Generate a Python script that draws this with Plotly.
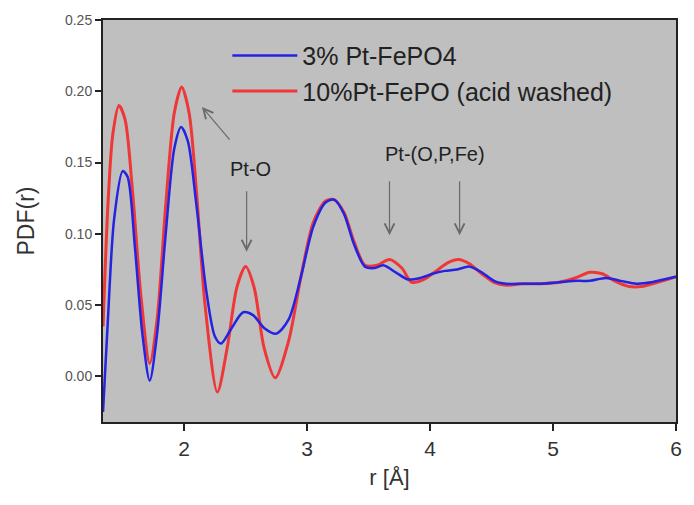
import plotly.graph_objects as go

# --- data ---
r_red = [1.34, 1.38, 1.42, 1.47, 1.52, 1.58, 1.65, 1.72, 1.78, 1.85, 1.92, 1.98, 2.04, 2.10,
         2.17, 2.27, 2.35, 2.43, 2.50, 2.57, 2.65, 2.74, 2.85, 2.95, 3.05, 3.15, 3.22, 3.30,
         3.38, 3.47, 3.57, 3.67, 3.77, 3.85, 3.95, 4.05, 4.15, 4.23, 4.32, 4.42, 4.52, 4.62,
         4.75, 4.90, 5.05, 5.18, 5.30, 5.40, 5.50, 5.62, 5.72, 5.85, 6.00]
pdf_red = [0.035, 0.120, 0.170, 0.190, 0.180, 0.130, 0.055, 0.009, 0.040, 0.120, 0.185, 0.203,
           0.185, 0.130, 0.050, -0.011, 0.020, 0.063, 0.077, 0.062, 0.020, -0.001, 0.025, 0.070,
           0.108, 0.123, 0.124, 0.115, 0.095, 0.078, 0.078, 0.082, 0.076, 0.066, 0.068, 0.074,
           0.080, 0.082, 0.079, 0.072, 0.066, 0.064, 0.065, 0.065, 0.066, 0.069, 0.073, 0.072,
           0.067, 0.063, 0.063, 0.066, 0.070]

r_blue = [1.34, 1.38, 1.43, 1.50, 1.54, 1.60, 1.66, 1.72, 1.78, 1.85, 1.92, 1.975, 2.03, 2.10,
          2.18, 2.25, 2.30, 2.38, 2.48, 2.56, 2.65, 2.75, 2.85, 2.95, 3.05, 3.15, 3.22, 3.30,
          3.38, 3.47, 3.55, 3.62, 3.72, 3.82, 3.92, 4.02, 4.12, 4.22, 4.32, 4.42, 4.52, 4.62,
          4.75, 4.90, 5.05, 5.20, 5.30, 5.43, 5.55, 5.68, 5.80, 5.90, 6.00]
pdf_blue = [-0.025, 0.040, 0.110, 0.144, 0.140, 0.090, 0.030, -0.003, 0.030, 0.100, 0.160, 0.175,
            0.165, 0.120, 0.060, 0.028, 0.023, 0.033, 0.045, 0.043, 0.034, 0.030, 0.040, 0.070,
            0.105, 0.122, 0.124, 0.114, 0.093, 0.077, 0.076, 0.078, 0.073, 0.068, 0.069, 0.072,
            0.074, 0.075, 0.077, 0.073, 0.067, 0.065, 0.065, 0.065, 0.066, 0.067, 0.067, 0.069,
            0.067, 0.065, 0.066, 0.068, 0.070]

name_blue = "3% Pt-FePO4"
name_red = "10%Pt-FePO (acid washed)"

x_ticks = [2, 3, 4, 5, 6]
y_ticks = [0.00, 0.05, 0.10, 0.15, 0.20, 0.25]

FONT = "Liberation Sans, Arial, sans-serif"

fig = go.Figure()
fig.add_trace(go.Scatter(x=r_red, y=pdf_red, mode="lines", name=name_red,
                         line=dict(color="rgb(240,55,55)", width=3, shape="spline", smoothing=0.8),
                         legendrank=2))
fig.add_trace(go.Scatter(x=r_blue, y=pdf_blue, mode="lines", name=name_blue,
                         line=dict(color="rgb(35,35,225)", width=2.5, shape="spline", smoothing=0.8),
                         legendrank=1))

arrow_style = dict(showarrow=True, arrowhead=5, arrowsize=1.6, arrowwidth=1.2,
                   arrowcolor="#6a6a6a", axref="x", ayref="y", text="")
arrows = [
    (2.508, 0.0875, 2.508, 0.131),
    (3.67, 0.099, 3.67, 0.138),
    (4.24, 0.099, 4.24, 0.138),
    (2.145, 0.189, 2.38, 0.165),
]
for (x, y, ax, ay) in arrows:
    fig.add_annotation(x=x, y=y, ax=ax, ay=ay, **arrow_style)

fig.add_annotation(x=2.54, y=0.1455, text="Pt-O", showarrow=False,
                   font=dict(family=FONT, size=20, color="#222"))
fig.add_annotation(x=4.04, y=0.156, text="Pt-(O,P,Fe)", showarrow=False,
                   font=dict(family=FONT, size=20, color="#222"))

fig.update_layout(
    width=694, height=505,
    margin=dict(l=103, r=13, t=16, b=83),
    paper_bgcolor="white",
    plot_bgcolor="#bfbfbf",
    font=dict(family=FONT, color="#333"),
    showlegend=True,
    legend=dict(x=0.217, y=0.968, xanchor="left", yanchor="top",
                bgcolor="rgba(0,0,0,0)", borderwidth=0,
                font=dict(family=FONT, size=25, color="#222"),
                itemwidth=65, tracegroupgap=0),
    xaxis=dict(range=[1.34, 6.0], tickvals=x_ticks, ticks="outside", ticklen=7,
               tickwidth=1.5, tickcolor="#222", showgrid=False, zeroline=False,
               showline=True, linecolor="#222", linewidth=2, mirror=True,
               tickfont=dict(family=FONT, size=21, color="#333"),
               title=dict(text="r [Å]", font=dict(family=FONT, size=22, color="#333"), standoff=10)),
    yaxis=dict(range=[-0.032, 0.25], tickvals=y_ticks, tickformat=".2f", ticks="outside",
               ticklen=6, tickwidth=1.5, tickcolor="#222", showgrid=False, zeroline=False,
               showline=True, linecolor="#222", linewidth=2, mirror=True,
               tickfont=dict(family=FONT, size=14, color="#555"),
               title=dict(text="PDF(r)", font=dict(family=FONT, size=23, color="#333"), standoff=24)),
)

fig.write_html("out.html")
